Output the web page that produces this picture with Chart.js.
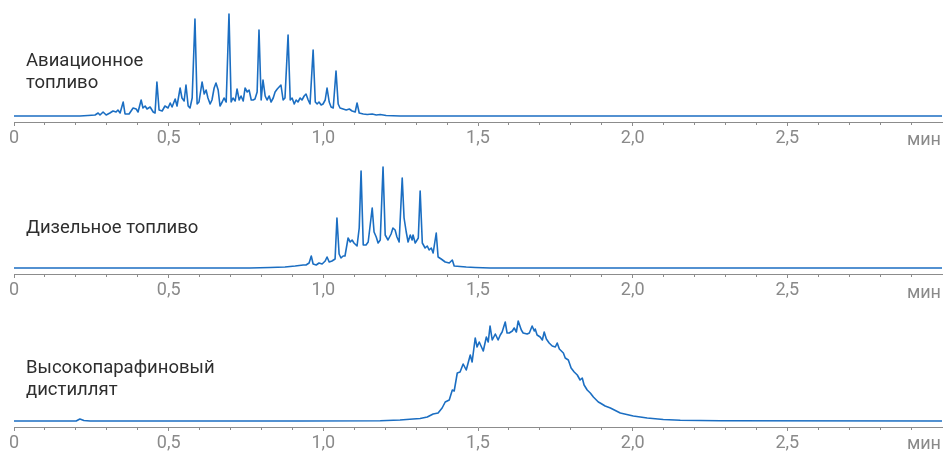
<!DOCTYPE html>
<html>
<head>
<meta charset="utf-8">
<script src="https://cdn.jsdelivr.net/npm/chart.js@4.4.1/dist/chart.umd.min.js"></script>
<style>
  html, body { margin: 0; padding: 0; background: #ffffff; }
  body { width: 945px; height: 451px; position: relative; overflow: hidden; font-family: Roboto, "Noto Sans", sans-serif; }
  canvas { position: absolute; left: 0; }
  .lbl { position: absolute; left: 26px; color: #2e2e2e; font-size: 18.5px; line-height: 22px; white-space: nowrap; }
  .unit { position: absolute; right: 4px; color: #8a8a8a; font-size: 18px; line-height: 20px; }
</style>
</head>
<body>
<canvas id="c1" width="945" height="146" style="top:0px"></canvas>
<canvas id="c2" width="945" height="147" style="top:151px"></canvas>
<canvas id="c3" width="945" height="150" style="top:301px"></canvas>
<div class="lbl" id="l1" style="top:49px"></div>
<div class="lbl" id="l2" style="top:216px"></div>
<div class="lbl" id="l3" style="top:356px"></div>
<div class="unit" id="u1" style="top:129px"></div>
<div class="unit" id="u2" style="top:282px"></div>
<div class="unit" id="u3" style="top:433px"></div>
<script>
// ---- data (retention time, min; detector signal, relative units) ----
const panelTitles = ['Авиационное<br>топливо', 'Дизельное топливо', 'Высокопарафиновый<br>дистиллят'];
const unitLabel = 'мин';
const tickLabels = ['0', '0,5', '1,0', '1,5', '2,0', '2,5'];

const aviationTime = [0, 0.213, 0.239, 0.262, 0.272, 0.278, 0.288, 0.298, 0.310, 0.320, 0.330, 0.336, 0.343, 0.353, 0.359, 0.372, 0.385, 0.395, 0.401, 0.411, 0.417, 0.424, 0.430, 0.440, 0.450, 0.456, 0.462, 0.469, 0.479, 0.488, 0.498, 0.505, 0.511, 0.521, 0.527, 0.537, 0.543, 0.550, 0.556, 0.563, 0.569, 0.576, 0.585, 0.592, 0.598, 0.608, 0.615, 0.621, 0.627, 0.634, 0.640, 0.647, 0.653, 0.660, 0.666, 0.673, 0.679, 0.686, 0.695, 0.702, 0.708, 0.715, 0.721, 0.728, 0.734, 0.741, 0.747, 0.754, 0.760, 0.767, 0.773, 0.779, 0.786, 0.792, 0.799, 0.805, 0.812, 0.818, 0.825, 0.831, 0.838, 0.844, 0.851, 0.857, 0.863, 0.870, 0.876, 0.886, 0.893, 0.899, 0.906, 0.912, 0.918, 0.925, 0.931, 0.938, 0.944, 0.951, 0.957, 0.967, 0.974, 0.980, 0.986, 0.993, 0.999, 1.006, 1.012, 1.019, 1.025, 1.032, 1.041, 1.048, 1.054, 1.064, 1.074, 1.084, 1.093, 1.103, 1.109, 1.116, 1.129, 1.142, 1.158, 1.171, 1.184, 1.203, 1.248, 3.0];
const aviationSignal = [0, 0, 0.5, 1, 3, 1, 4, 1, 3, 5, 4, 6, 3, 14, 2, 2, 8, 7, 4, 16, 8, 10, 7, 9, 4, 3, 34, 6, 5, 10, 8, 13, 9, 17, 10, 28, 18, 15, 31, 10, 8, 18, 97, 12, 14, 34, 22, 26, 18, 12, 16, 28, 33, 26, 10, 14, 18, 14, 102, 14, 18, 15, 27, 16, 20, 15, 28, 24, 26, 16, 16, 17, 24, 86, 16, 36, 20, 16, 20, 14, 18, 24, 27, 29, 31, 16, 18, 81, 16, 18, 12, 16, 14, 18, 16, 20, 22, 16, 12, 66, 14, 12, 14, 11, 12, 16, 28, 14, 9, 8, 45, 12, 8, 7, 6, 7, 5, 4, 13, 3, 2, 1.5, 2, 1, 1.5, 0.5, 0, 0];

const dieselTime = [0, 0.602, 0.763, 0.828, 0.876, 0.909, 0.935, 0.944, 0.954, 0.961, 0.967, 0.977, 0.986, 0.996, 1.006, 1.012, 1.019, 1.028, 1.038, 1.044, 1.051, 1.057, 1.064, 1.070, 1.080, 1.087, 1.093, 1.099, 1.109, 1.116, 1.122, 1.129, 1.138, 1.145, 1.158, 1.164, 1.171, 1.177, 1.184, 1.193, 1.200, 1.209, 1.219, 1.225, 1.232, 1.238, 1.245, 1.255, 1.261, 1.268, 1.274, 1.281, 1.287, 1.290, 1.297, 1.307, 1.313, 1.320, 1.329, 1.336, 1.342, 1.349, 1.355, 1.365, 1.371, 1.381, 1.394, 1.407, 1.417, 1.423, 1.442, 1.462, 1.491, 1.539, 3.0];
const dieselSignal = [0, 0, 0, 0.5, 1, 2, 3, 3, 5, 12, 4, 3, 5, 4, 7, 11, 6, 7, 9, 50, 14, 10, 12, 12, 30, 26, 28, 25, 22, 40, 97, 23, 23, 26, 60, 36, 31, 25, 28, 101, 33, 28, 34, 40, 38, 31, 26, 90, 50, 36, 26, 33, 28, 33, 25, 30, 77, 25, 20, 22, 18, 20, 15, 35, 11, 9, 6, 5, 8, 2, 1.5, 1, 0.5, 0, 0];

const distillateTime = [0, 0.201, 0.213, 0.226, 0.246, 0.925, 1.184, 1.248, 1.290, 1.313, 1.336, 1.355, 1.371, 1.384, 1.394, 1.407, 1.417, 1.423, 1.433, 1.442, 1.452, 1.462, 1.475, 1.481, 1.491, 1.497, 1.504, 1.517, 1.527, 1.533, 1.539, 1.546, 1.556, 1.565, 1.572, 1.578, 1.588, 1.594, 1.601, 1.611, 1.617, 1.624, 1.630, 1.640, 1.646, 1.659, 1.666, 1.675, 1.682, 1.685, 1.691, 1.701, 1.708, 1.714, 1.721, 1.730, 1.740, 1.750, 1.756, 1.763, 1.776, 1.782, 1.792, 1.801, 1.811, 1.821, 1.830, 1.837, 1.843, 1.853, 1.863, 1.873, 1.889, 1.895, 1.911, 1.928, 1.960, 2.002, 2.047, 2.099, 2.154, 2.283, 3.0];
const distillateSignal = [0, 0, 2, 0.5, 0, 0, 0.3, 1, 2, 2.5, 4, 7, 8, 13, 19, 21, 31, 30, 48, 49, 57, 51, 66, 59, 83, 74, 79, 70, 84, 79, 95, 81, 87, 81, 86, 89, 99, 88, 88, 90, 93, 89, 100, 91, 88, 87, 88, 95, 90, 92, 86, 84, 81, 89, 82, 78, 75, 74, 78, 72, 68, 63, 61, 53, 49, 46, 41, 43, 36, 31, 28, 24, 19, 18, 15, 13, 8, 5, 3, 1.5, 0.8, 0.3, 0];

// ---- rendering ----
const LINE = '#1b6ec2';
const AXIS = '#8c8c8c';
const TICKTXT = '#8a8a8a';

function isMajor(v) { return Math.abs(v * 2 - Math.round(v * 2)) < 1e-6; }

function makeChart(id, times, signal, yMin, yMax) {
  const pts = times.map((t, i) => ({ x: t, y: signal[i] }));
  return new Chart(document.getElementById(id), {
    type: 'line',
    data: { datasets: [{ data: pts, borderColor: LINE, borderWidth: 1.6, pointRadius: 0, tension: 0, fill: false, borderJoinStyle: 'round' }] },
    options: {
      responsive: false,
      animation: false,
      events: [],
      layout: { padding: { left: 14, right: 3, top: 6, bottom: 0 } },
      plugins: { legend: { display: false }, tooltip: { enabled: false } },
      scales: {
        x: {
          type: 'linear', min: 0, max: 3,
          afterFit: (s) => { s.height = 24; },
          border: { display: true, color: AXIS, width: 1 },
          grid: {
            drawOnChartArea: false, drawTicks: true, tickLength: 4,
            tickColor: (c) => (c.tick && Math.abs(c.tick.value - 3) < 1e-6) ? 'rgba(0,0,0,0)' : AXIS,
            tickBorderDash: (c) => (c.tick && isMajor(c.tick.value)) ? [] : [2, 10]
          },
          ticks: {
            stepSize: 0.1, autoSkip: false, maxRotation: 0, padding: 2,
            color: TICKTXT, font: { family: 'Roboto', size: 18 },
            callback: (v) => {
              if (!isMajor(v)) return '';
              const k = Math.round(v * 2);
              return k < tickLabels.length ? tickLabels[k] : '';
            }
          }
        },
        y: { display: false, min: yMin, max: yMax }
      }
    }
  });
}

makeChart('c1', aviationTime, aviationSignal, -6, 110);
makeChart('c2', dieselTime, dieselSignal, -6, 111);
makeChart('c3', distillateTime, distillateSignal, -6, 114);

['l1', 'l2', 'l3'].forEach((id, i) => { document.getElementById(id).innerHTML = panelTitles[i]; });
['u1', 'u2', 'u3'].forEach((id) => { document.getElementById(id).textContent = unitLabel; });
</script>
</body>
</html>
